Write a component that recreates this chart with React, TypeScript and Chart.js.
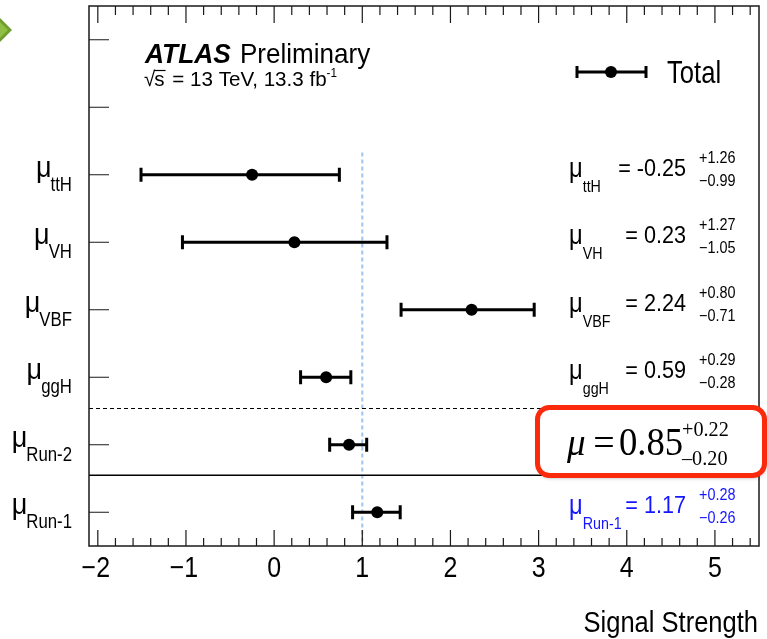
import React, { useEffect, useRef } from "react";
import { Chart, registerables } from "chart.js";
Chart.register(...registerables);

// ---- data ----
const categories = ["ttH", "VH", "VBF", "ggH", "Run-2", "Run-1"];
const values = [-0.25, 0.23, 2.24, 0.59, 0.85, 1.17];
const errUp = [1.26, 1.27, 0.8, 0.29, 0.22, 0.28];
const errDown = [0.99, 1.05, 0.71, 0.28, 0.2, 0.26];
const rowPos = [5.5, 4.5, 3.5, 2.5, 1.5, 0.5];
const emptyRowTicks = [6.5, 7.5];
const xTickLabels = [-2, -1, 0, 1, 2, 3, 4, 5];
const combinedIndex = 4;
const highlightIndex = 5;
const smValue = 1;
const smLineTop = 5.83;
const dashedSeparator = 2.05;
const solidSeparator = 1.05;

const SANS = "'Liberation Sans', Arial, sans-serif";
const SERIF = "'Liberation Serif', 'Times New Roman', serif";

function txt(
  ctx: CanvasRenderingContext2D,
  s: string,
  x: number,
  y: number,
  font: string,
  color = "#000",
  align: CanvasTextAlign = "left",
  sx = 1
) {
  ctx.save();
  ctx.font = font;
  ctx.fillStyle = color;
  ctx.textAlign = align;
  ctx.textBaseline = "alphabetic";
  ctx.translate(x, y);
  ctx.scale(sx, 1);
  ctx.fillText(s, 0, 0);
  ctx.restore();
}
function tw(ctx: CanvasRenderingContext2D, s: string, font: string, sx = 1) {
  ctx.save();
  ctx.font = font;
  const w = ctx.measureText(s).width * sx;
  ctx.restore();
  return w;
}
function fmtErr(v: number) {
  return v.toFixed(2);
}

const atlasPlugin = {
  id: "atlasPlugin",
  beforeDraw(chart: any) {
    const ctx = chart.ctx as CanvasRenderingContext2D;
    ctx.save();
    ctx.fillStyle = "#fff";
    ctx.fillRect(0, 0, chart.width, chart.height);
    ctx.fillStyle = "#6f9d2e";
    ctx.beginPath();
    ctx.moveTo(-2, 16);
    ctx.lineTo(12, 30);
    ctx.lineTo(-2, 44);
    ctx.closePath();
    ctx.fill();
    ctx.fillStyle = "#8fbf44";
    ctx.beginPath();
    ctx.moveTo(-2, 20);
    ctx.lineTo(8, 30);
    ctx.lineTo(-2, 40);
    ctx.closePath();
    ctx.fill();
    ctx.restore();
  },
  beforeDatasetsDraw(chart: any) {
    const ctx = chart.ctx as CanvasRenderingContext2D;
    const a = chart.chartArea;
    const xs = chart.scales.x;
    const ys = chart.scales.y;
    ctx.save();
    const px = xs.getPixelForValue(smValue);
    ctx.strokeStyle = "#9ec5f2";
    ctx.lineWidth = 2;
    ctx.setLineDash([4, 3]);
    ctx.beginPath();
    ctx.moveTo(px, ys.getPixelForValue(smLineTop));
    ctx.lineTo(px, a.bottom);
    ctx.stroke();
    ctx.strokeStyle = "#000";
    ctx.lineWidth = 1;
    ctx.setLineDash([4, 3]);
    const dy = Math.round(ys.getPixelForValue(dashedSeparator)) + 0.5;
    ctx.beginPath();
    ctx.moveTo(a.left, dy);
    ctx.lineTo(a.right, dy);
    ctx.stroke();
    ctx.setLineDash([]);
    ctx.lineWidth = 1.5;
    const sy = ys.getPixelForValue(solidSeparator);
    ctx.beginPath();
    ctx.moveTo(a.left, sy);
    ctx.lineTo(a.right, sy);
    ctx.stroke();
    ctx.strokeStyle = "#000";
    ctx.lineWidth = 3;
    for (let i = 0; i < values.length; i++) {
      const y = ys.getPixelForValue(rowPos[i]);
      const x1 = xs.getPixelForValue(values[i] - errUp[i]);
      const x2 = xs.getPixelForValue(values[i] + errDown[i]);
      ctx.beginPath();
      ctx.moveTo(x1, y);
      ctx.lineTo(x2, y);
      ctx.moveTo(x1, y - 7);
      ctx.lineTo(x1, y + 7);
      ctx.moveTo(x2, y - 7);
      ctx.lineTo(x2, y + 7);
      ctx.stroke();
    }
    ctx.restore();
  },
  afterDatasetsDraw(chart: any) {
    const ctx = chart.ctx as CanvasRenderingContext2D;
    const a = chart.chartArea;
    const xs = chart.scales.x;
    const ys = chart.scales.y;
    ctx.save();
    ctx.strokeStyle = "#1a1a1a";
    ctx.lineWidth = 1.5;
    ctx.strokeRect(a.left, a.top, a.right - a.left, a.bottom - a.top);
    ctx.lineWidth = 1.2;
    ctx.beginPath();
    const minX = xs.min;
    const maxX = xs.max;
    for (let k = Math.ceil(minX * 5); k <= Math.floor(maxX * 5); k++) {
      const v = k / 5;
      const p = xs.getPixelForValue(v);
      const major = k % 5 === 0;
      ctx.moveTo(p, a.bottom);
      ctx.lineTo(p, a.bottom - (major ? 16 : 8));
      ctx.moveTo(p, a.top);
      ctx.lineTo(p, a.top + (major ? 17 : 9));
    }
    [...rowPos, ...emptyRowTicks].forEach((r) => {
      const p = ys.getPixelForValue(r);
      ctx.moveTo(a.left, p);
      ctx.lineTo(a.left + 20, p);
    });
    ctx.stroke();
    ctx.restore();

    // x tick labels
    xTickLabels.forEach((v) => {
      const p = xs.getPixelForValue(v);
      const s = v < 0 ? "\u2212" + Math.abs(v) : String(v);
      txt(ctx, s, p - (v < 0 ? 2 : 0), a.bottom + 31, `29px ${SANS}`, "#000", "center", 0.86);
    });
    txt(ctx, "Signal Strength", 758, 632, `29px ${SANS}`, "#000", "right", 0.88);

    // left category labels
    categories.forEach((c, i) => {
      const p = ys.getPixelForValue(rowPos[i]);
      const subFont = `20px ${SANS}`;
      const sw = tw(ctx, c, subFont, 0.84);
      const sxp = 72 - sw;
      txt(ctx, c, sxp, p + 16, subFont, "#000", "left", 0.84);
      txt(ctx, "\u03bc", sxp + 1, p + 2, `30px ${SANS}`, "#000", "right", 0.9);
    });

    // right value labels
    categories.forEach((c, i) => {
      if (i === combinedIndex) return;
      const p = ys.getPixelForValue(rowPos[i]);
      const col = i === highlightIndex ? "#1515ff" : "#000";
      const muFont = `27px ${SANS}`;
      const muW = tw(ctx, "\u03bc", muFont, 0.88);
      txt(ctx, "\u03bc", 569, p + 2, muFont, col, "left", 0.88);
      txt(ctx, c, 569 + muW, p + 17, `17px ${SANS}`, col, "left", 0.84);
      txt(ctx, "= " + values[i].toFixed(2), 686, p + 1, `24px ${SANS}`, col, "right", 0.9);
      txt(ctx, "+" + fmtErr(errUp[i]), 699, p - 12, `16px ${SANS}`, col, "left", 0.9);
      txt(ctx, "\u2212" + fmtErr(errDown[i]), 699, p + 11, `16px ${SANS}`, col, "left", 0.9);
    });

    // combined result box
    ctx.save();
    const bx = 537.5, by = 407.5, bw = 227, bh = 68, r = 12;
    ctx.shadowColor = "rgba(0,0,0,0.35)";
    ctx.shadowBlur = 4;
    ctx.shadowOffsetX = 1;
    ctx.shadowOffsetY = 2;
    ctx.beginPath();
    ctx.roundRect(bx, by, bw, bh, r);
    ctx.fillStyle = "#fff";
    ctx.fill();
    ctx.shadowColor = "transparent";
    ctx.lineWidth = 5;
    ctx.strokeStyle = "#fb2a0c";
    ctx.stroke();
    ctx.restore();
    const cv = values[combinedIndex];
    txt(ctx, "\u03bc", 567, 455, `italic 37px ${SERIF}`);
    txt(ctx, "=", 604, 455, `38px ${SERIF}`, "#000", "center");
    txt(ctx, cv.toFixed(2), 619, 455, `39px ${SERIF}`, "#000", "left", 0.94);
    txt(ctx, "+" + fmtErr(errUp[combinedIndex]), 682, 436, `22px ${SERIF}`, "#000", "left", 0.92);
    txt(ctx, "\u2013" + fmtErr(errDown[combinedIndex]), 682, 465, `22px ${SERIF}`, "#000", "left", 0.92);

    // ATLAS label
    txt(ctx, "ATLAS", 145, 63, `bold italic 28px ${SANS}`, "#000", "left", 0.94);
    txt(ctx, "Preliminary", 240, 63, `28px ${SANS}`, "#000", "left", 0.93);
    const f2 = `21px ${SANS}`;
    const s2 = 0.98;
    txt(ctx, "\u221a", 144, 86, f2, "#000", "left", s2);
    const rw = tw(ctx, "\u221a", f2, s2);
    txt(ctx, "s", 144 + rw - 1, 86, f2, "#000", "left", s2);
    const sw2 = tw(ctx, "s", f2, s2);
    ctx.save();
    ctx.strokeStyle = "#000";
    ctx.lineWidth = 1.2;
    ctx.beginPath();
    ctx.moveTo(144 + rw - 1.5, 70.5);
    ctx.lineTo(144 + rw + sw2, 70.5);
    ctx.stroke();
    ctx.restore();
    const restX = 144 + rw + sw2 + 1;
    const rest = " = 13 TeV, 13.3 fb";
    txt(ctx, rest, restX, 86, f2, "#000", "left", s2);
    const restW = tw(ctx, rest, f2, s2);
    txt(ctx, "-1", restX + restW, 77, `13px ${SANS}`, "#000", "left", 0.9);

    // legend
    ctx.save();
    ctx.strokeStyle = "#000";
    ctx.lineWidth = 3;
    ctx.beginPath();
    ctx.moveTo(577, 72);
    ctx.lineTo(646, 72);
    ctx.moveTo(577, 66);
    ctx.lineTo(577, 78);
    ctx.moveTo(646, 66);
    ctx.lineTo(646, 78);
    ctx.stroke();
    ctx.fillStyle = "#000";
    ctx.beginPath();
    ctx.arc(611, 72, 6, 0, Math.PI * 2);
    ctx.fill();
    ctx.restore();
    txt(ctx, "Total", 667, 83, `32px ${SANS}`, "#000", "left", 0.8);
  },
};

export default function App() {
  const ref = useRef<HTMLCanvasElement | null>(null);
  useEffect(() => {
    if (!ref.current) return;
    const chart = new Chart(ref.current, {
      type: "scatter",
      data: {
        datasets: [
          {
            data: values.map((v, i) => ({ x: v, y: rowPos[i] })),
            backgroundColor: "#000",
            borderColor: "#000",
            borderWidth: 0,
            pointRadius: 6,
            pointHoverRadius: 6,
          },
        ],
      },
      options: {
        responsive: false,
        animation: false,
        devicePixelRatio: 1,
        layout: { padding: { left: 89, right: 8, top: 5, bottom: 93 } },
        plugins: { legend: { display: false }, tooltip: { enabled: false } },
        events: [],
        scales: {
          x: {
            type: "linear",
            min: -2.1,
            max: 5.5,
            grid: { display: false, drawTicks: false },
            border: { display: false },
            ticks: { display: false },
          },
          y: {
            type: "linear",
            min: 0,
            max: 8,
            grid: { display: false, drawTicks: false },
            border: { display: false },
            ticks: { display: false },
          },
        },
      },
      plugins: [atlasPlugin],
    });
    return () => chart.destroy();
  }, []);
  return (
    <div style={{ position: "fixed", left: 0, top: 0, width: 767, height: 639, background: "#fff" }}>
      <canvas ref={ref} width={767} height={639} style={{ display: "block" }} />
    </div>
  );
}
